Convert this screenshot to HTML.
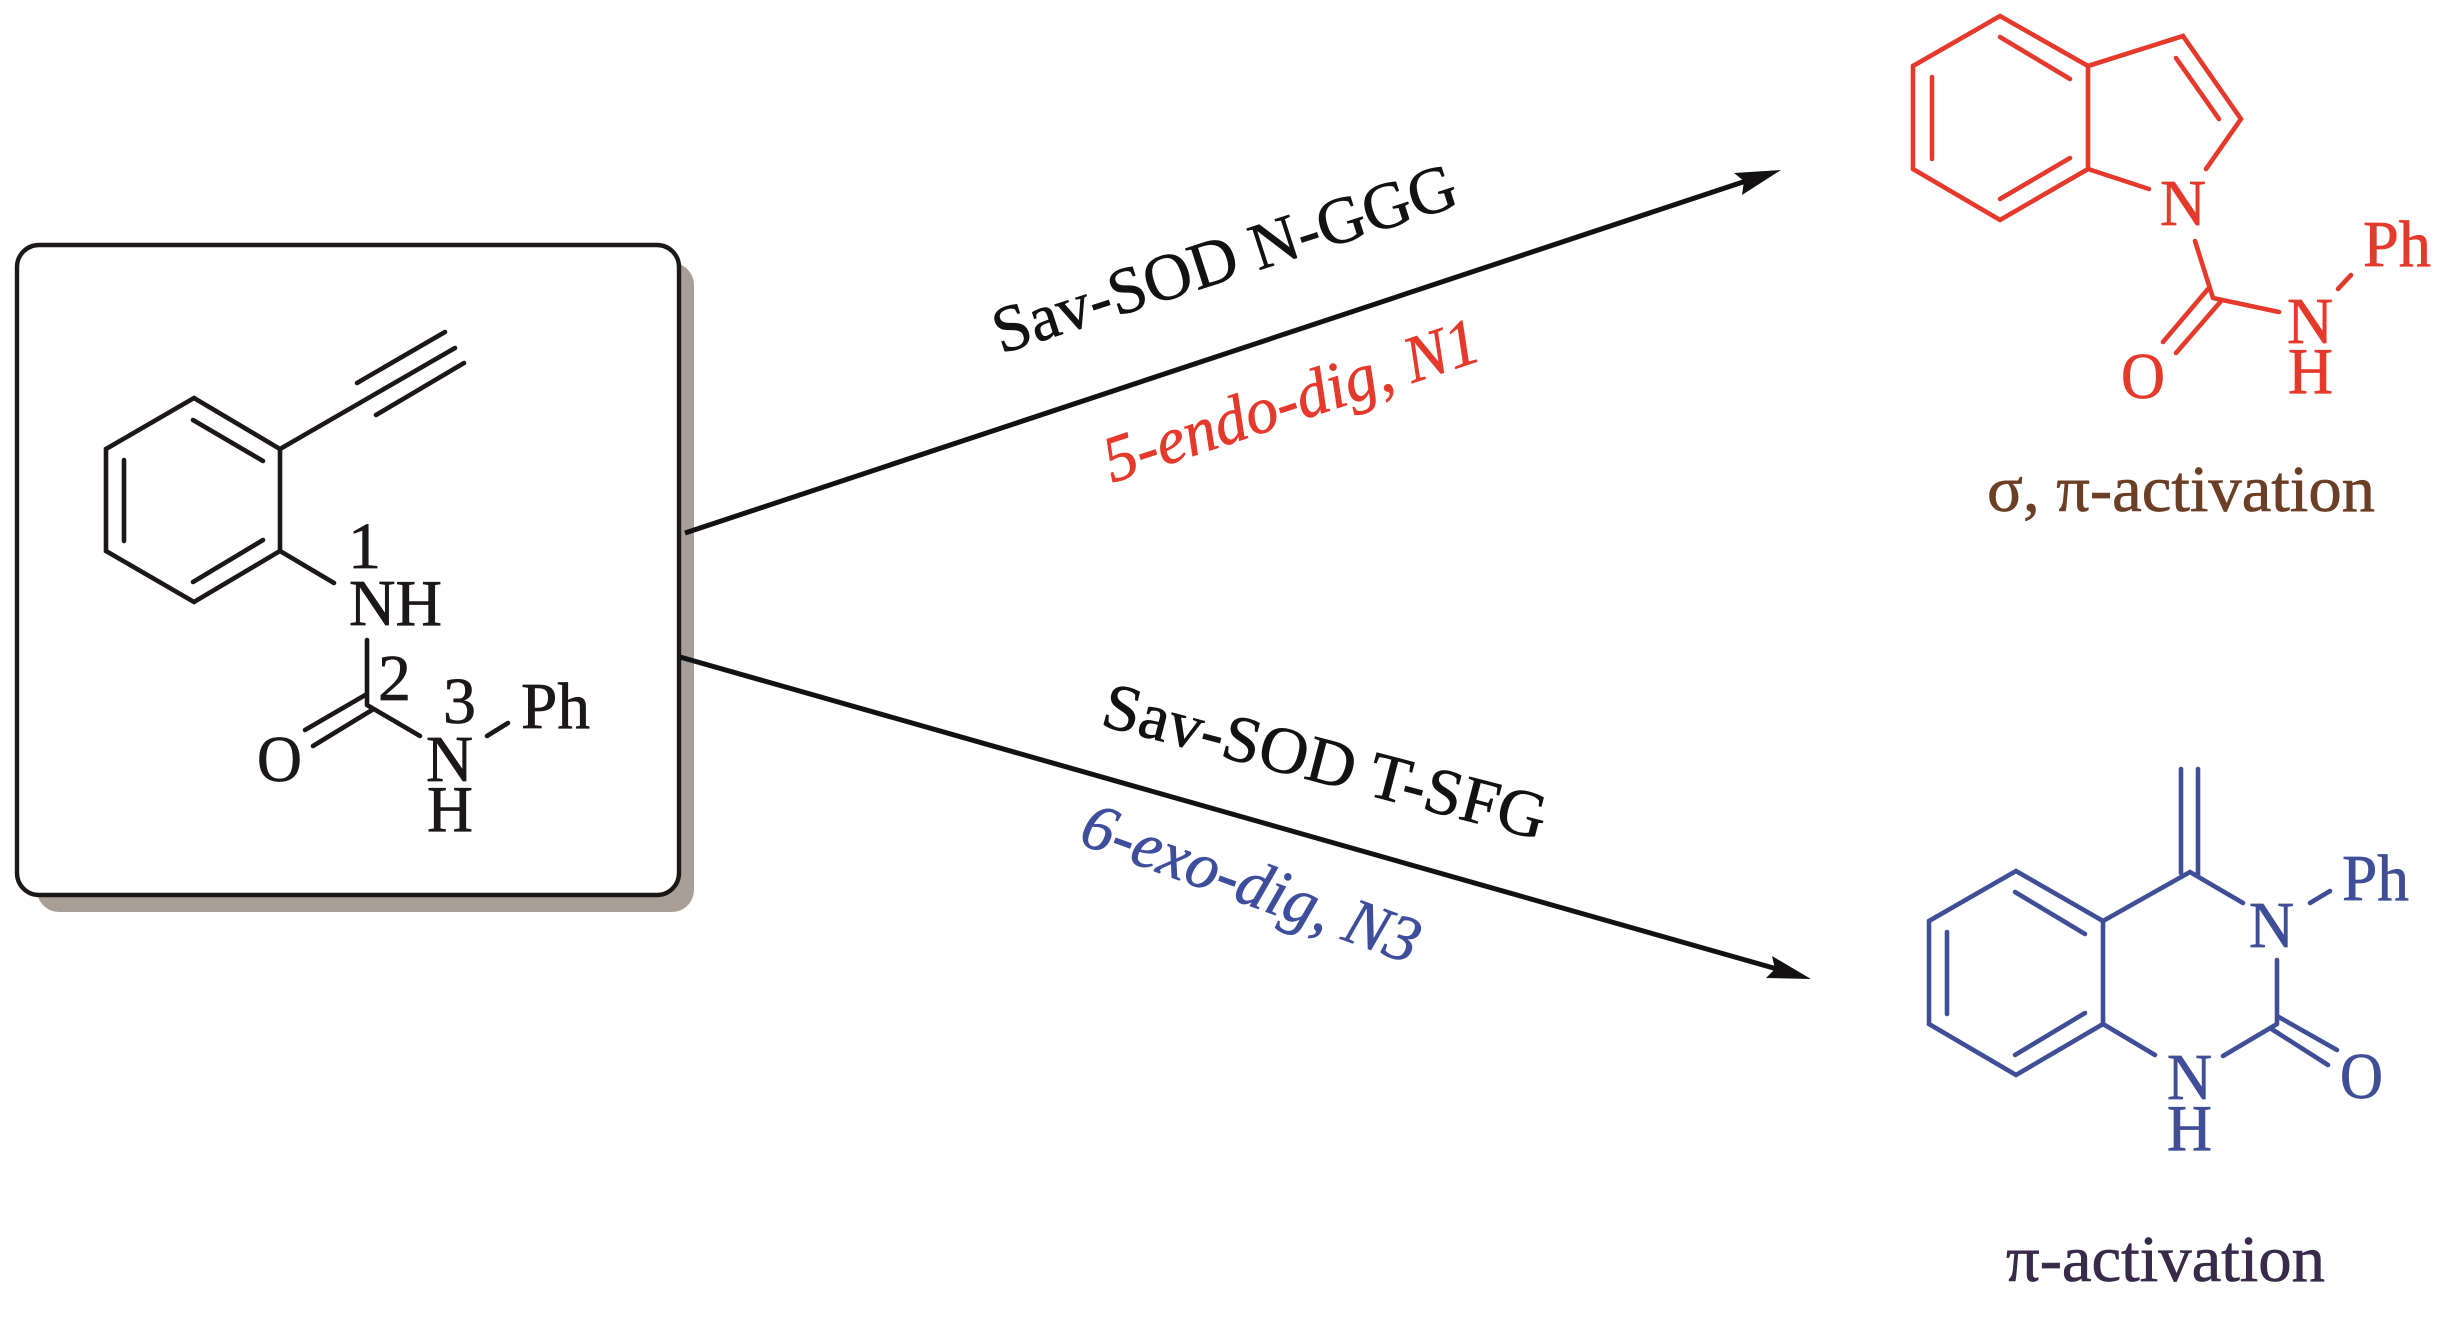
<!DOCTYPE html>
<html><head><meta charset="utf-8"><style>
html,body{margin:0;padding:0;background:#fff}
svg{display:block}
text{font-family:"Liberation Serif",serif;font-size:66px;stroke-width:.7px;paint-order:stroke}
</style></head><body>
<svg width="2457" height="1318" viewBox="0 0 2457 1318" xmlns="http://www.w3.org/2000/svg">
<rect width="2457" height="1318" fill="#fff"/>
<rect x="37" y="263" width="657" height="649" rx="22" fill="#a89e96"/>
<rect x="17" y="245" width="662" height="650" rx="22" fill="#fff" stroke="#1c1819" stroke-width="4.4"/>

<g stroke="#1c1819" stroke-width="4.6" fill="none" stroke-linecap="round" stroke-linejoin="miter">
<path d="M194 398L280 449V551L194 602L106 551V449Z"/>
<path d="M193 420L263 461M263 540L193 582M124 460V541"/>
<path d="M280 449L455 348M357 383L445 332M376 415L464 363"/>
<path d="M280 551L334 583M367 640V705M367 694L305 730M372 710L313 746M367 705L420 736M487 736L508 723"/>
</g>
<g fill="#1c1819" stroke="#1c1819">
<text x="348" y="568">1</text>
<text x="349" y="625" textLength="93" lengthAdjust="spacingAndGlyphs">NH</text>
<text x="378" y="700">2</text>
<text x="443" y="723">3</text>
<text x="521" y="728" textLength="69" lengthAdjust="spacingAndGlyphs">Ph</text>
<text x="257" y="781" textLength="45" lengthAdjust="spacingAndGlyphs">O</text>
<text x="426" y="781" textLength="47" lengthAdjust="spacingAndGlyphs">N</text>
<text x="427" y="831" textLength="46" lengthAdjust="spacingAndGlyphs">H</text>
</g>

<g stroke="#141112" stroke-width="5" fill="none">
<path d="M685 533L1746 181"/>
<path d="M680 657L1777 969"/>
</g>
<path d="M1781 170L1734 173L1744 181L1742 195Z" fill="#141112"/>
<path d="M1811 979L1772 956L1775 969L1766 978Z" fill="#141112"/>

<text transform="translate(1001 354) rotate(-18)" fill="#141112" stroke="#141112" textLength="484" lengthAdjust="spacingAndGlyphs">Sav-SOD N-GGG</text>
<text transform="translate(1112 483) rotate(-18.4)" fill="#e5392c" stroke="#e5392c" font-style="italic" textLength="392" lengthAdjust="spacingAndGlyphs">5-endo-dig, N1</text>
<text transform="translate(1099 725) rotate(14.6)" fill="#141112" stroke="#141112" textLength="456" lengthAdjust="spacingAndGlyphs">Sav-SOD T-SFG</text>
<text transform="translate(1077 843) rotate(20)" fill="#3f4e9c" stroke="#3f4e9c" font-style="italic" textLength="355" lengthAdjust="spacingAndGlyphs">6-exo-dig, N3</text>

<g stroke="#e5392c" stroke-width="4.6" fill="none" stroke-linecap="round">
<path d="M2000 16L2088 66V169L2000 220L1913 169V66Z"/>
<path d="M2000 37L2070 79M2070 158L2000 199M1932 77V159"/>
<path d="M2088 66L2183 36L2241 119L2206 169M2176 58L2219 119M2088 169L2149 189"/>
<path d="M2195 241L2213 298M2208 289L2163 342M2222 300L2176 353M2213 298L2279 312M2338 289L2351 275"/>
</g>
<g fill="#e5392c" stroke="#e5392c">
<text x="2160" y="225" textLength="46" lengthAdjust="spacingAndGlyphs">N</text>
<text x="2363" y="266" textLength="68" lengthAdjust="spacingAndGlyphs">Ph</text>
<text x="2287" y="343" textLength="46" lengthAdjust="spacingAndGlyphs">N</text>
<text x="2288" y="393" textLength="45" lengthAdjust="spacingAndGlyphs">H</text>
<text x="2121" y="398" textLength="44" lengthAdjust="spacingAndGlyphs">O</text>
</g>
<text x="1987" y="511" fill="#6b3f26" stroke="#6b3f26" textLength="388" lengthAdjust="spacingAndGlyphs">σ, π-activation</text>

<g stroke="#3f4e96" stroke-width="4.6" fill="none" stroke-linecap="round">
<path d="M2016 871L2103 921V1024L2016 1075L1929 1024V921Z"/>
<path d="M2015 892L2085 934M2085 1013L2015 1055M1947 932V1014"/>
<path d="M2103 921L2190 872L2243 903M2181 769V873M2198 769V875"/>
<path d="M2310 903L2330 891M2277 960V1024M2277 1016L2337 1050M2270 1028L2328 1065M2277 1024L2223 1056M2103 1024L2155 1055"/>
</g>
<g fill="#3f4e96" stroke="#3f4e96">
<text x="2249" y="947" textLength="45" lengthAdjust="spacingAndGlyphs">N</text>
<text x="2342" y="900" textLength="67" lengthAdjust="spacingAndGlyphs">Ph</text>
<text x="2167" y="1099" textLength="45" lengthAdjust="spacingAndGlyphs">N</text>
<text x="2167" y="1150" textLength="45" lengthAdjust="spacingAndGlyphs">H</text>
<text x="2340" y="1098" textLength="43" lengthAdjust="spacingAndGlyphs">O</text>
</g>
<text x="2006" y="1281" fill="#3a2a4a" stroke="#3a2a4a" textLength="319" lengthAdjust="spacingAndGlyphs">π-activation</text>
</svg>
</body></html>
